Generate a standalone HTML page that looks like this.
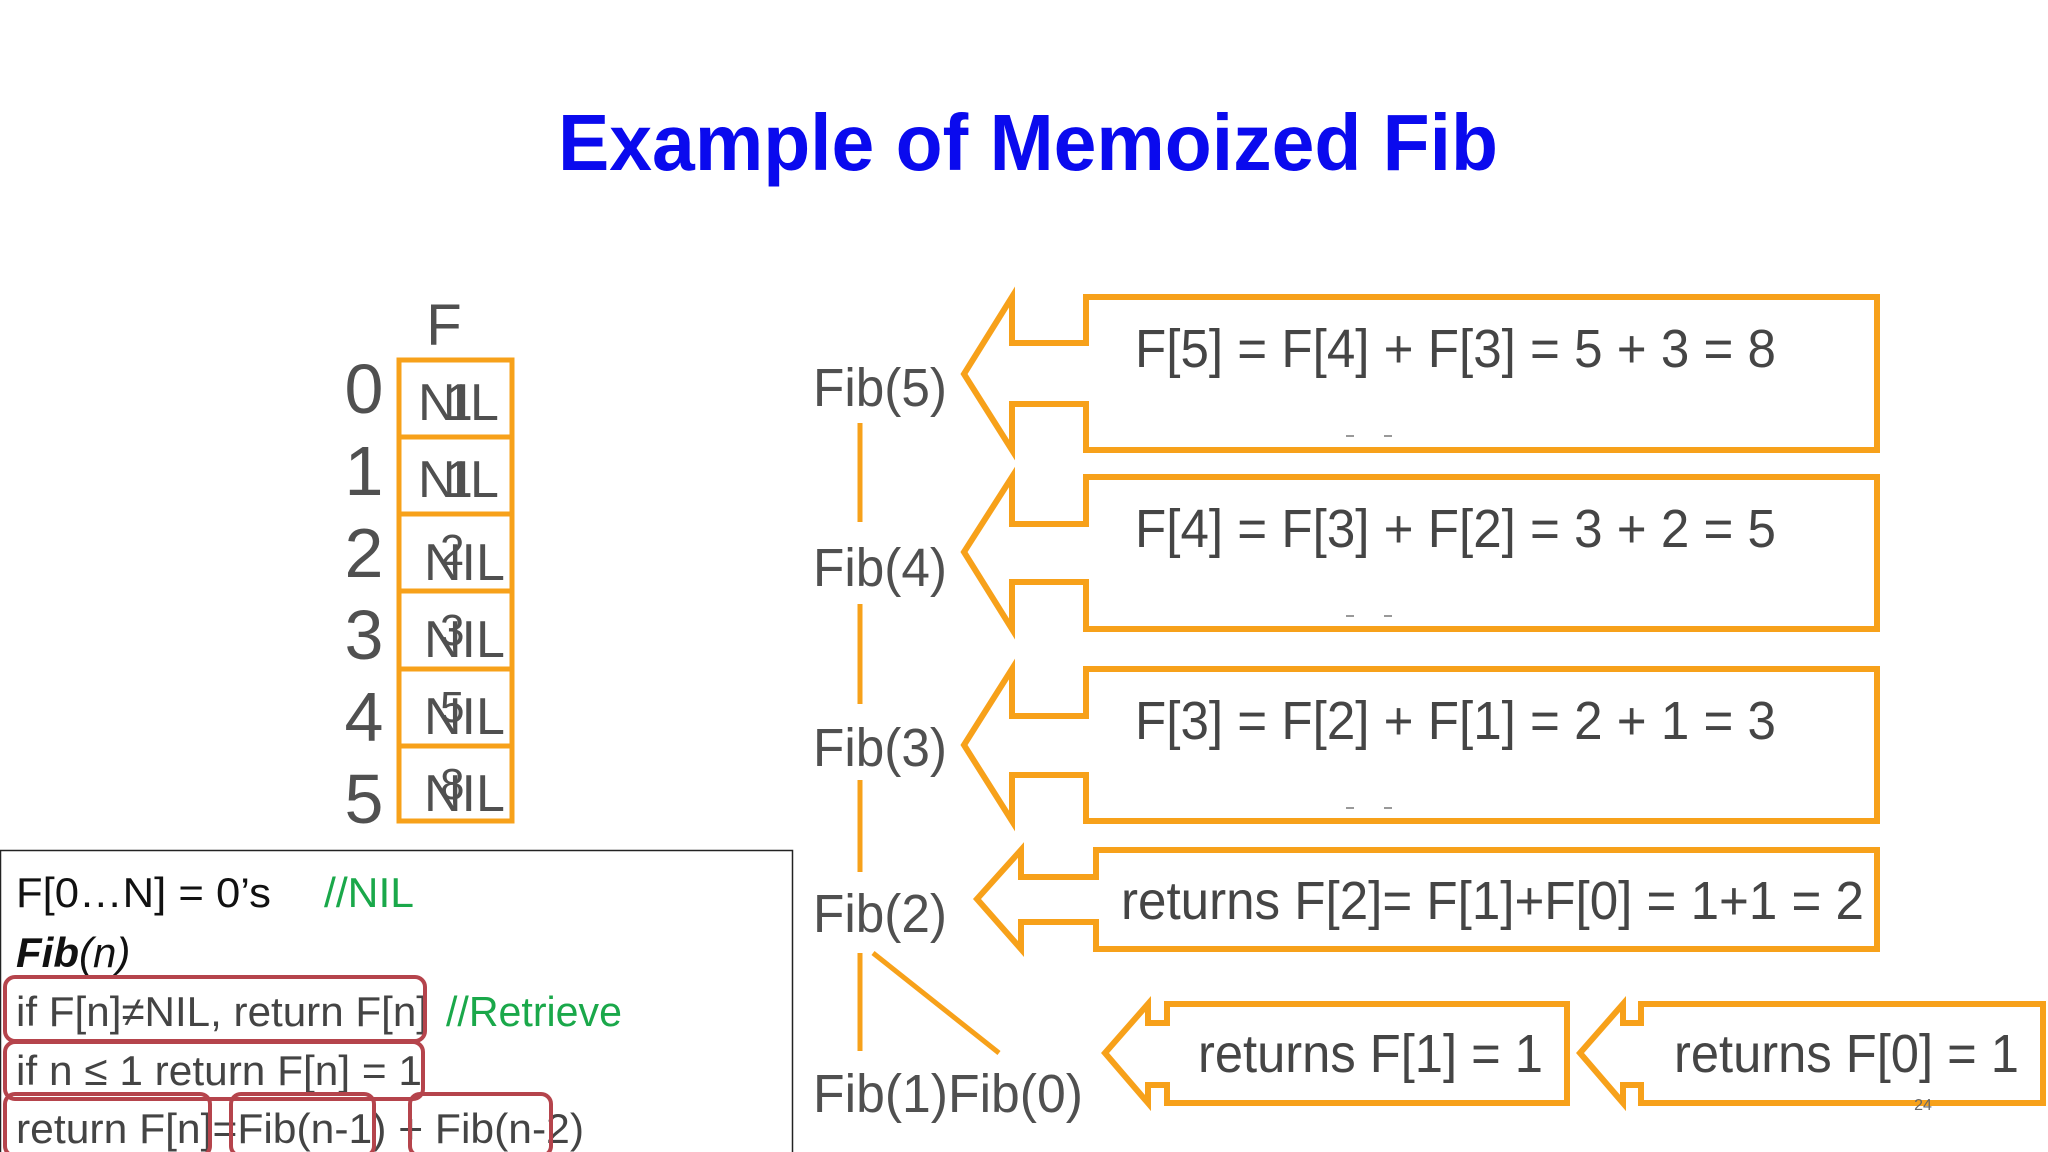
<!DOCTYPE html>
<html><head><meta charset="utf-8"><style>
html,body{margin:0;padding:0;background:#fff;}
svg{display:block;}
</style></head><body>
<svg width="2048" height="1152" viewBox="0 0 2048 1152" xmlns="http://www.w3.org/2000/svg">
<text x="1028" y="170" text-anchor="middle" font-family="Liberation Sans, sans-serif" font-weight="bold" font-size="80" fill="#0a0aee" textLength="940" lengthAdjust="spacingAndGlyphs">Example of Memoized Fib</text>

<!-- table -->
<g font-family="Liberation Sans, sans-serif" fill="#505050">
<text x="444" y="345" font-size="58" text-anchor="middle">F</text>
<text x="364" y="413" font-size="70" text-anchor="middle">0</text>
<text x="364" y="495" font-size="70" text-anchor="middle">1</text>
<text x="364" y="577" font-size="70" text-anchor="middle">2</text>
<text x="364" y="659" font-size="70" text-anchor="middle">3</text>
<text x="364" y="741" font-size="70" text-anchor="middle">4</text>
<text x="364" y="823" font-size="70" text-anchor="middle">5</text>
</g>
<g fill="none" stroke="#f7a11a" stroke-width="5">
<rect x="399" y="360" width="113" height="461"/>
<line x1="399" y1="437" x2="512" y2="437"/>
<line x1="399" y1="514" x2="512" y2="514"/>
<line x1="399" y1="591" x2="512" y2="591"/>
<line x1="399" y1="669" x2="512" y2="669"/>
<line x1="399" y1="746" x2="512" y2="746"/>
</g>
<g font-family="Liberation Sans, sans-serif" fill="#505050" font-size="52">
<text x="418" y="420">NIL</text><text x="444" y="420">1</text>
<text x="418" y="497">NIL</text><text x="444" y="497">1</text>
<text x="424" y="580">NIL</text><text x="440" y="565" font-size="44">2</text>
<text x="424" y="657">NIL</text><text x="440" y="645" font-size="44">3</text>
<text x="424" y="734">NIL</text><text x="440" y="722" font-size="44">5</text>
<text x="424" y="811">NIL</text><text x="440" y="799" font-size="44">8</text>
</g>

<!-- code box -->
<rect x="0.5" y="850.5" width="792" height="310" fill="none" stroke="#222" stroke-width="1.5"/>
<g font-family="Liberation Sans, sans-serif" font-size="42">
<text x="16" y="907" fill="#111" textLength="255" lengthAdjust="spacingAndGlyphs">F[0…N] = 0’s</text>
<text x="324" y="907" fill="#1aa84a" textLength="90" lengthAdjust="spacingAndGlyphs">//NIL</text>
<text x="16" y="967" fill="#111"><tspan font-weight="bold" font-style="italic">Fib</tspan><tspan font-style="italic">(n)</tspan></text>
<text x="16" y="1026" fill="#444" textLength="412" lengthAdjust="spacingAndGlyphs">if F[n]≠NIL, return F[n]</text>
<text x="446" y="1026" fill="#1aa84a" textLength="176" lengthAdjust="spacingAndGlyphs">//Retrieve</text>
<text x="16" y="1085" fill="#444" textLength="406" lengthAdjust="spacingAndGlyphs">if n ≤ 1 return F[n] = 1</text>
<text x="16" y="1143" fill="#444" textLength="568" lengthAdjust="spacingAndGlyphs">return F[n]=Fib(n-1) + Fib(n-2)</text>
</g>
<g fill="none" stroke="#b5444c" stroke-width="4">
<rect x="5" y="977" width="420" height="64" rx="10"/>
<rect x="5" y="1042" width="418" height="57" rx="10"/>
<rect x="5" y="1094" width="205" height="62" rx="10"/>
<rect x="231" y="1094" width="143" height="62" rx="10"/>
<rect x="410" y="1094" width="141" height="62" rx="10"/>
</g>

<!-- Fib labels -->
<g font-family="Liberation Sans, sans-serif" font-size="54" fill="#505050">
<text x="813" y="406" textLength="134" lengthAdjust="spacingAndGlyphs">Fib(5)</text>
<text x="813" y="586" textLength="134" lengthAdjust="spacingAndGlyphs">Fib(4)</text>
<text x="813" y="766" textLength="134" lengthAdjust="spacingAndGlyphs">Fib(3)</text>
<text x="813" y="932" textLength="134" lengthAdjust="spacingAndGlyphs">Fib(2)</text>
<text x="813" y="1112" textLength="270" lengthAdjust="spacingAndGlyphs">Fib(1)Fib(0)</text>
</g>
<g stroke="#f7a11a" stroke-width="5" fill="none">
<line x1="860" y1="423" x2="860" y2="522"/>
<line x1="860" y1="604" x2="860" y2="704"/>
<line x1="860" y1="780" x2="860" y2="872"/>
<line x1="860" y1="953" x2="860" y2="1051"/>
<line x1="873" y1="953" x2="999" y2="1053"/>
</g>

<!-- arrow callouts -->
<g fill="none" stroke="#f7a11a" stroke-width="6" stroke-linejoin="miter">
<path d="M964 374 L1012 297 L1012 343 L1086 343 L1086 297 L1877 297 L1877 450 L1086 450 L1086 404 L1012 404 L1012 450 Z"/>
<path d="M964 552 L1012 477 L1012 524 L1086 524 L1086 477 L1877 477 L1877 629 L1086 629 L1086 582 L1012 582 L1012 629 Z"/>
<path d="M964 745 L1012 669 L1012 716 L1086 716 L1086 669 L1877 669 L1877 821 L1086 821 L1086 775 L1012 775 L1012 821 Z"/>
<path d="M977 899 L1021 850 L1021 877 L1096 877 L1096 850 L1877 850 L1877 949 L1096 949 L1096 922 L1021 922 L1021 949 Z"/>
<path d="M1105 1053 L1148 1004 L1148 1023 L1167 1023 L1167 1004 L1567 1004 L1567 1103 L1167 1103 L1167 1085 L1148 1085 L1148 1103 Z"/>
<path d="M1580 1053 L1623 1004 L1623 1023 L1641 1023 L1641 1004 L2043 1004 L2043 1103 L1641 1103 L1641 1085 L1623 1085 L1623 1103 Z"/>
</g>
<g font-family="Liberation Sans, sans-serif" font-size="54" fill="#454545">
<text x="1135" y="367" textLength="641" lengthAdjust="spacingAndGlyphs">F[5] = F[4] + F[3] = 5 + 3 = 8</text>
<text x="1135" y="547" textLength="641" lengthAdjust="spacingAndGlyphs">F[4] = F[3] + F[2] = 3 + 2 = 5</text>
<text x="1135" y="739" textLength="641" lengthAdjust="spacingAndGlyphs">F[3] = F[2] + F[1] = 2 + 1 = 3</text>
<text x="1121" y="919" textLength="743" lengthAdjust="spacingAndGlyphs">returns F[2]= F[1]+F[0] = 1+1 = 2</text>
<text x="1198" y="1072" textLength="345" lengthAdjust="spacingAndGlyphs">returns F[1] = 1</text>
<text x="1674" y="1072" textLength="345" lengthAdjust="spacingAndGlyphs">returns F[0] = 1</text>
</g>
<g stroke="#777" stroke-width="1.5">
<line x1="1346" y1="436" x2="1354" y2="436"/><line x1="1384" y1="436" x2="1392" y2="436"/>
<line x1="1346" y1="616" x2="1354" y2="616"/><line x1="1384" y1="616" x2="1392" y2="616"/>
<line x1="1346" y1="808" x2="1354" y2="808"/><line x1="1384" y1="808" x2="1392" y2="808"/>
</g>
<text x="1923" y="1110" font-family="Liberation Sans, sans-serif" font-size="16" fill="#666" text-anchor="middle">24</text>
</svg>
</body></html>
